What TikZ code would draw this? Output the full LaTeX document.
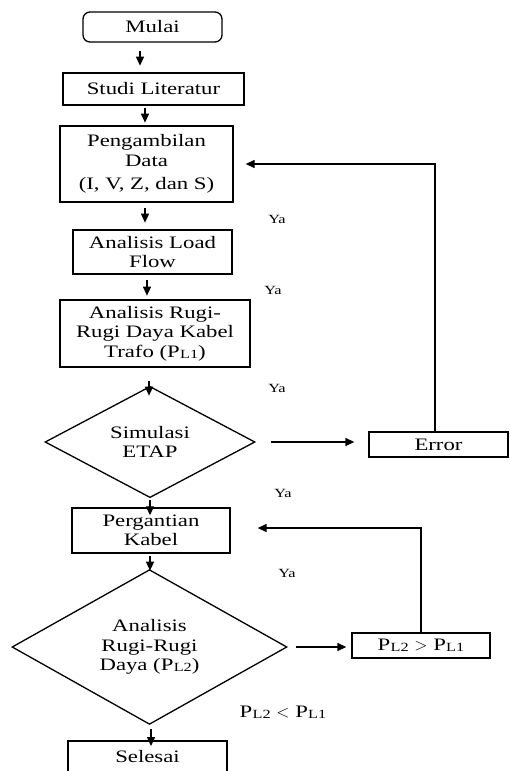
\documentclass[tikz,border=0pt]{standalone}
\usepackage{fontspec}
\setmainfont[FakeStretch=1.3]{Liberation Serif}
\usetikzlibrary{arrows.meta,shapes.geometric,calc}
\newcommand{\psub}[1]{P\kern0.3pt\raisebox{-1.2pt}{\fontsize{12.5}{12.5}\selectfont #1}}
\begin{document}
\begin{tikzpicture}[x=1pt,y=-1pt,
  every node/.style={font=\fontsize{17.5}{19.5}\selectfont, align=center, inner sep=0pt},
  box/.style={draw, line width=1.3pt, rectangle},
  dia/.style={draw, line width=1.3pt, diamond, inner sep=0pt},
  arr/.style={draw, line width=1.3pt, -{Triangle[length=9pt,width=8pt]}},
  lbl/.style={font=\fontsize{12.5}{13}\selectfont},
]
\useasboundingbox (0,0) rectangle (509,771);

\node[box, rounded corners=7pt, minimum width=139pt, minimum height=30pt] (mulai) at (152.5,27) {Mulai};
\node[box, minimum width=181pt, minimum height=32pt] (studi) at (153.5,89) {Studi Literatur};
\node[box, minimum width=173pt, minimum height=76pt] (peng) at (146.5,164) {Pengambilan\\Data\\[4pt](I, V, Z, dan S)};
\node[box, minimum width=159pt, minimum height=44pt] (lf) at (152.5,252) {Analisis Load\\Flow};
\node[box, minimum width=190pt, minimum height=67pt] (rugi) at (155,333.5) {Analisis Rugi-\\Rugi Daya Kabel\\Trafo (\psub{L1})};
\node[dia, minimum width=210pt, minimum height=88pt] (d1) at (150,442) {Simulasi\\ETAP};
\node[box, minimum width=139pt, minimum height=25pt] (err) at (438.5,444.5) {Error};
\node[box, minimum width=158pt, minimum height=45pt] (perg) at (151,530.5) {Pergantian\\Kabel};
\node[dia, minimum width=275pt, minimum height=138pt] (d2) at (149.5,647) {Analisis\\Rugi-Rugi\\Daya (\psub{L2})};
\node[box, minimum width=138pt, minimum height=25pt] (pbox) at (421,645.5) {\psub{L2} $>$ \psub{L1}};
\node[box, minimum width=159pt, minimum height=32pt] (sel) at (147.5,757) {Selesai};

% vertical arrows
\draw[arr] ($(mulai.south)+(-12.5,8)$) -- ++(0,15);
\draw[arr] ($(studi.south)+(-8.5,2)$) -- ++(0,15);
\draw[arr] ($(peng.south)+(-1.5,5)$) -- ++(0,15);
\draw[arr] ($(lf.south)+(-5.5,5)$) -- ++(0,16);
\draw[arr] ($(rugi.south)+(-6,13)$) -- ++(0,15);
\draw[arr] ($(d1.south)+(0,2)$) -- ++(0,15);
\draw[arr] ($(perg.south)+(-1,2)$) -- ++(0,15);
\draw[arr] ($(d2.south)+(1.5,4)$) -- ++(0,17);

% horizontal arrows
\draw[arr, shorten <=15pt, shorten >=14pt] (d1.east) -- (d1.east -| err.west);
\draw[arr, shorten <=8pt, shorten >=5pt] (d2.east) -- (d2.east -| pbox.west);

% feedback loops
\draw[arr, shorten >=12pt] ([xshift=-3.5pt]err.north) |- (peng.east);
\draw[arr, shorten >=27pt] (pbox.north) |- ([yshift=2.5pt]perg.east);

% labels
\node[lbl] (ya1) at (277,219) {Ya};
\node[lbl] (ya2) at (273,290) {Ya};
\node[lbl] (ya3) at (277,388) {Ya};
\node[lbl] (ya4) at (283,493) {Ya};
\node[lbl] (ya5) at (287,573) {Ya};
\node (cond) at (283,712) {\psub{L2} $<$ \psub{L1}};
\end{tikzpicture}
\end{document}
